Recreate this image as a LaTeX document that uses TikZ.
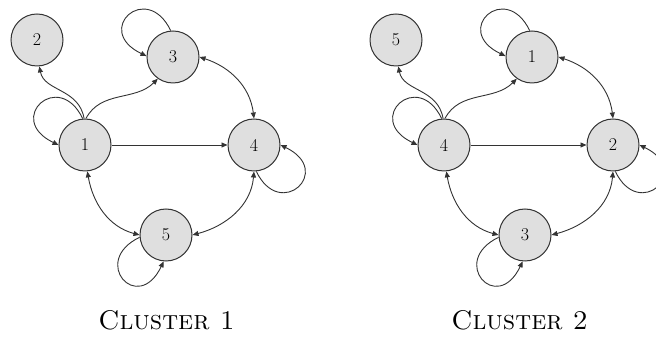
\documentclass[tikz,border=0pt]{standalone}
\usetikzlibrary{arrows.meta}

\tikzset{
  state/.style={circle, minimum size=52pt, inner sep=0pt, fill=gray!25,
    draw=black!80, line width=1pt, font=\fontsize{18}{18}\selectfont},
  edge/.style={draw=black!80, line width=0.9pt},
  tip/.style={-{Triangle[length=6pt,width=5pt]}},
  both/.style={{Triangle[length=6pt,width=5pt]}-{Triangle[length=6pt,width=5pt]}},
  caption/.style={anchor=base, font=\fontsize{27}{27}\selectfont}
}

\begin{document}
\begin{tikzpicture}[x=1pt, y=1pt]
  \useasboundingbox (0,0) rectangle (656,337);

  % Both clusters share one layout: A is the hub, B the isolated top-left state,
  % C the top state, D the right state and E the bottom state.
  \foreach \p/\dx/\la/\lb/\lc/\ld/\le in {a/0/1/2/3/4/5, b/359/4/5/1/2/3}{
    \begin{scope}[xshift=\dx pt]
      \node[state] (\p-A) at (85,192)  {\la};
      \node[state] (\p-B) at (37,297)  {\lb};
      \node[state] (\p-C) at (173,280) {\lc};
      \node[state] (\p-D) at (254,192) {\ld};
      \node[state] (\p-E) at (166,102) {\le};

      % transitions leaving the hub
      \draw[edge, tip] (\p-A.92) .. controls +(-5,30) and +(5,-25) .. (\p-B.-85);
      \draw[edge, tip] (\p-A.88) to[out=62, in=225] (\p-C.235);
      \draw[edge, tip] (\p-A.east) -- (\p-D.west);

      % two-way transitions
      \draw[edge, both] (\p-C.east) to[out=-18, in=97] (\p-D.north);
      \draw[edge, both] (\p-A.-85) to[out=-80, in=165] (\p-E.west);
      \draw[edge, both] (\p-D.south) to[out=-95, in=15] (\p-E.east);

      % self loops
      \draw[edge, tip] (\p-A.95) .. controls +(-24,50) and +(-54,26) .. (\p-A.180);
      \draw[edge, tip] (\p-C.95) .. controls +(-24,50) and +(-54,26) .. (\p-C.178);
      \draw[edge, tip] (\p-D.275) .. controls +(24,-50) and +(54,-26) .. (\p-D.east);
      \draw[edge, tip] (\p-E.185) .. controls +(-50,-24) and +(-26,-54) .. (\p-E.265);
    \end{scope}
  }

  \node[caption] (cap1) at (166.5,7) {\textsc{Cluster 1}};
  \node[caption] (cap2) at (519.5,7) {\textsc{Cluster 2}};
\end{tikzpicture}
\end{document}
